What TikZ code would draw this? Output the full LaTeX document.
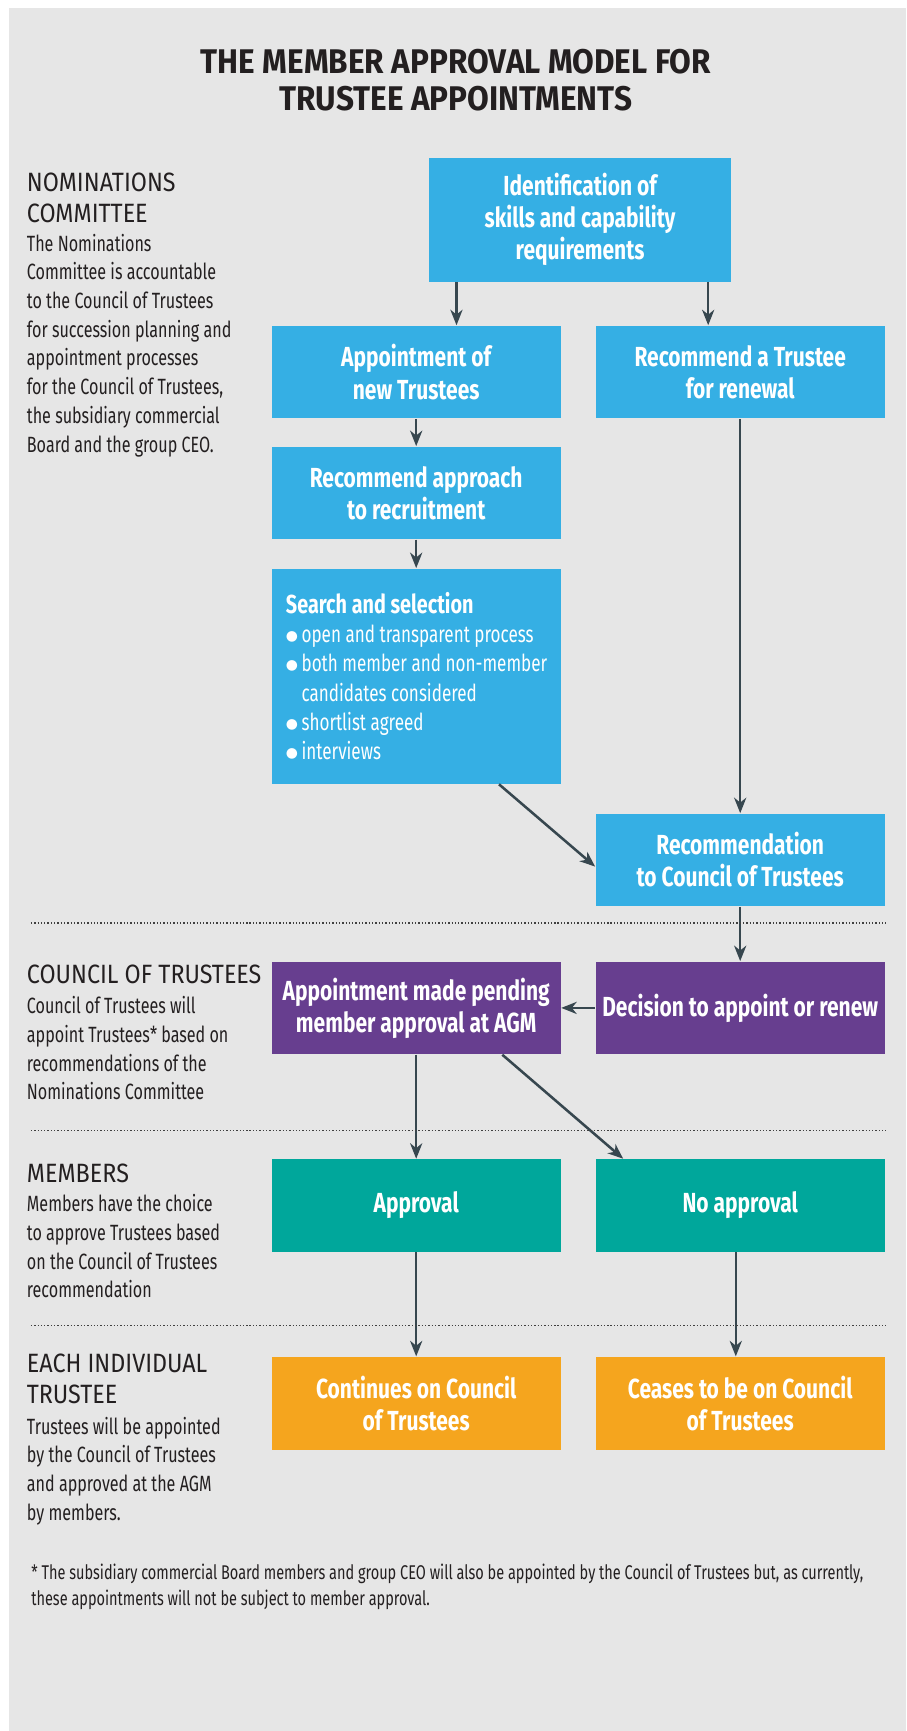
\documentclass[tikz,border=0pt]{standalone}
\usepackage{fontspec}
\setmainfont[FakeStretch=0.76]{Fira Sans}
\newfontfamily\titlefamily[FakeStretch=0.92]{Fira Sans}
\newfontfamily\headfamily[FakeStretch=0.88]{Fira Sans}
\newfontfamily\bodyfamily[FakeStretch=0.73]{Fira Sans}
\newfontfamily\symbolfamily{DejaVu Sans}
\usetikzlibrary{arrows.meta}

\definecolor{paper}{HTML}{E6E6E6}
\definecolor{ink}{HTML}{231F20}
\definecolor{slate}{HTML}{37474F}
\definecolor{skyblue}{HTML}{35AFE4}
\definecolor{plum}{HTML}{673E8F}
\definecolor{seagreen}{HTML}{00A79B}
\definecolor{amber}{HTML}{F5A51E}

\newcommand{\cardfont}{\bfseries\fontsize{12.5}{14.5}\selectfont}
\newcommand{\headfont}{\headfamily\fontsize{12}{14}\selectfont}
\newcommand{\notefont}{\bodyfamily\fontsize{10}{13}\selectfont}
\newcommand{\dotitem}{\makebox[7.1pt][l]{\raisebox{1.1pt}{\symbolfamily\fontsize{6.3}{6}\selectfont ●}}}

\tikzstyle{card}=[shape=rectangle,
	       minimum width=131pt,
	       minimum height=42pt,
	       inner sep=2pt,
	       align=center,
	       text=white,
	       font=\cardfont]
\tikzstyle{skycard}=[card, fill=skyblue]
\tikzstyle{plumcard}=[card, fill=plum]
\tikzstyle{seacard}=[card, fill=seagreen]
\tikzstyle{ambercard}=[card, fill=amber]
\tikzstyle{head}=[anchor=north west, inner sep=0, align=left, text=ink, font=\headfont]
\tikzstyle{note}=[anchor=north west, inner sep=0, align=left, text=ink, font=\notefont]
\tikzstyle{arr}=[-{Stealth[length=7pt,width=5.5pt,inset=2.2pt]},
	       line width=1.15pt,
	       draw=slate]
\tikzstyle{divider}=[draw=black!75, line width=0.55pt, dash pattern=on 0.6pt off 0.9pt]

\begin{document}
\begin{tikzpicture}[x=0.5pt, y=-0.5pt]

% page and grey panel
\useasboundingbox (0,0) rectangle (821,1568);
\fill[paper] (8,7) rectangle (821,1568);

% title
\node[anchor=north, inner sep=0, align=center, text=ink,
      font=\titlefamily\bfseries\fontsize{15.5}{17}\selectfont] (title) at (413,44)
      {THE MEMBER APPROVAL MODEL FOR\\TRUSTEE APPOINTMENTS};

% boxes, placed relative to the top one
\node[skycard, minimum width=136.5pt, minimum height=56pt] (ident) at (525.5,199)
      {Identification of\\skills and capability\\requirements};
\path (ident) ++(-148.5,138) node (appt) [skycard] {Appointment of\\new Trustees};
\path (appt) ++(293.5,0) node (renew) [skycard] {Recommend a Trustee\\for renewal};
\path (appt) ++(0,109.5) node (approach) [skycard] {Recommend approach\\to recruitment};
\path (approach) ++(0,166) node (search) [skycard, minimum height=97.5pt,
      align=flush left, text width=118pt, inner xsep=6.5pt, inner ysep=0pt,
      font=\bodyfamily\fontsize{10.6}{13.25}\selectfont]
      {\mbox{\rmfamily\bfseries\fontsize{11.8}{13.25}\selectfont Search and selection}\\
       \mbox{\dotitem open and transparent process}\\
       \mbox{\dotitem both member and non-member}\\
       \mbox{\hspace*{7.1pt}candidates considered}\\
       \mbox{\dotitem shortlist agreed}\\
       \mbox{\dotitem interviews}};
\path (renew) ++(0,442) node (recom) [skycard] {Recommendation\\to Council of Trustees};
\path (search) ++(0,300.5) node (pending) [plumcard] {Appointment made pending\\member approval at AGM};
\path (pending) ++(293.5,0) node (decide) [plumcard] {Decision to appoint or renew};
\path (pending) ++(0,179) node (approve) [seacard] {Approval};
\path (approve) ++(293.5,0) node (noapp) [seacard] {No approval};
\path (approve) ++(0,179) node (cont) [ambercard] {Continues on Council\\of Trustees};
\path (cont) ++(293.5,0) node (cease) [ambercard] {Ceases to be on Council\\of Trustees};

% arrows between boxes
\draw[arr] ([xshift=-56pt]ident.south) -- ([xshift=-56pt]ident.south |- appt.north);
\draw[arr] ([xshift=58pt]ident.south) -- ([xshift=58pt]ident.south |- renew.north);
\draw[arr] (appt) -- (approach);
\draw[arr] (approach) -- (search);
\draw[arr] (renew) -- (recom);
\draw[arr] ([xshift=37.5pt]search.south) -- ([yshift=-3pt]recom.west);
\draw[arr] (recom) -- (decide);
\draw[arr] (decide) -- (pending);
\draw[arr] (pending) -- (approve);
\draw[arr] ([xshift=39pt]pending.south) -- ([xshift=-53pt]noapp.north);
\draw[arr] (approve) -- (cont);
\draw[arr] ([xshift=-2pt]noapp.south) -- ([xshift=-2pt]cease.north);

% dotted dividers between the stages
\draw[divider] (28,836) -- (803,836);
\draw[divider] (28,1024) -- (803,1024);
\draw[divider] (28,1201) -- (803,1201);

% left-hand column
\node[head] (nomhead) at (24,156.3) {NOMINATIONS\\COMMITTEE};
\node[note] (nomtext) at (24,211.5) {The Nominations\\Committee is accountable\\to the Council of Trustees\\for succession planning and\\appointment processes\\for the Council of Trustees,\\the subsidiary commercial\\Board and the group CEO.};
\node[head] (cothead) at (24,874) {COUNCIL OF TRUSTEES};
\node[note] (cottext) at (24,902.4) {Council of Trustees will\\appoint Trustees* based on\\recommendations of the\\Nominations Committee};
\node[head] (memhead) at (24,1054.3) {MEMBERS};
\node[note] (memtext) at (24,1081.6) {Members have the choice\\to approve Trustees based\\on the Council of Trustees\\recommendation};
\node[head] (eachhead) at (24,1226.3) {EACH INDIVIDUAL\\TRUSTEE};
\node[note] (eachtext) at (24,1283) {Trustees will be appointed\\by the Council of Trustees\\and approved at the AGM\\by members.};

% footnote
\node[anchor=north west, inner sep=0, align=left, text=ink,
      font=\bodyfamily\fontsize{9}{12}\selectfont] (foot) at (28,1416)
      {* The subsidiary commercial Board members and group CEO will also be appointed by the Council of Trustees but, as currently,\\these appointments will not be subject to member approval.};

\end{tikzpicture}
\end{document}
